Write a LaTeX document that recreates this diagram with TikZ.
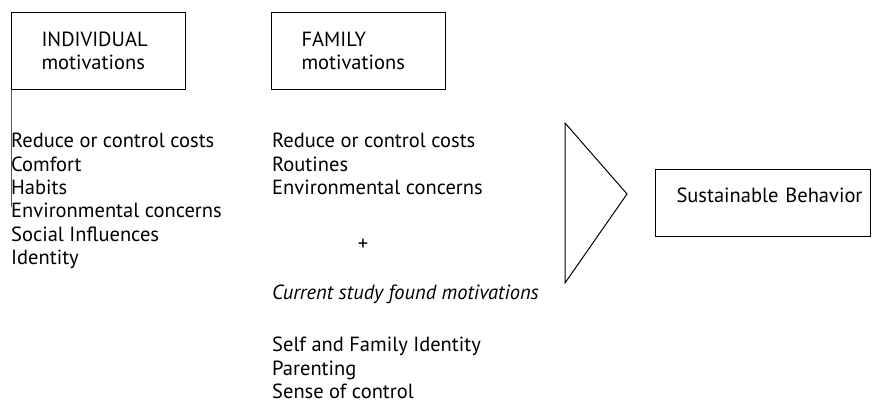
\documentclass[tikz,border=0pt]{standalone}
\usepackage{fontspec}
\setmainfont{PT Sans}
\usetikzlibrary{positioning}

\tikzset{
    motbox/.style={draw, line width=1pt, anchor=north west, align=left,
        text width=114pt, inner xsep=30pt, minimum height=77pt},
    motlist/.style={anchor=north west, align=left, inner sep=0pt}
}

\begin{document}
\begin{tikzpicture}[x=1pt, y=-1pt, font=\fontsize{20.5}{23.4}\selectfont]

    % Page frame
    \useasboundingbox (0, 0) rectangle (872, 403);

    % Motivation boxes
    \node[motbox] (indiv) at (11, 12) {INDIVIDUAL\\motivations};
    \node[motbox] (family) at (271, 12) {FAMILY\\motivations};

    % Thin line below the individual box
    \coordinate (tick) at (11, 207);
    \draw[gray!70!black, line width=0.6pt] (indiv.south west) -- (tick);

    % Individual motivations
    \node[motlist] (indivlist) at (11, 133) {Reduce or control costs\\Comfort\\Habits\\Environmental concerns\\Social Influences\\Identity};

    % Family motivations
    \node[motlist] (famlist) at (272, 133) {Reduce or control costs\\Routines\\Environmental concerns};
    \node (plus) at (363, 245) {+};
    \node[motlist] (study) at (272, 285) {\itshape Current study found motivations};
    \node[motlist] (found) at (272, 337) {Self and Family Identity\\Parenting\\Sense of control};

    % Triangle pointing to the outcome
    \coordinate (tritop) at (565, 123);
    \coordinate (triapex) at (627, 194);
    \coordinate (tribot) at (565, 283);
    \draw[line width=1pt, line join=miter] (tritop) -- (triapex) -- (tribot) -- cycle;

    % Outcome box
    \node[draw, line width=1pt, anchor=north west, align=left, text width=173pt,
        inner xsep=21pt, inner ysep=18pt, text depth=16pt] (behav) at (655, 169) {\mbox{Sustainable Behavior}};

\end{tikzpicture}
\end{document}
